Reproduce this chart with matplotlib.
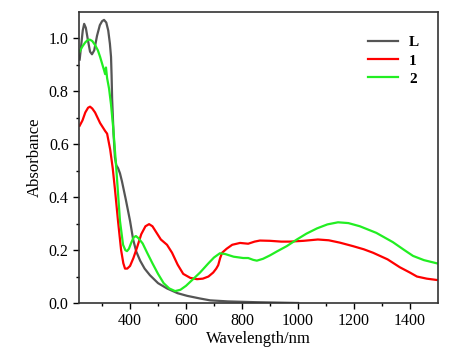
import numpy as np
import matplotlib
matplotlib.use('Agg')
import matplotlib.pyplot as plt

plt.rcParams['font.family'] = 'Liberation Serif'

# wavelength (nm) / absorbance
wl_L = [220, 226, 231, 236, 242, 250, 257, 264, 272, 282, 292, 300, 307, 315, 322, 328, 332, 334, 336, 341, 346, 351, 357, 364, 371, 385, 400, 411, 422, 436, 452, 471, 500, 532, 570, 604, 650, 686, 750, 850, 1000]
abs_L = [0.92, 0.98, 1.03, 1.055, 1.04, 0.99, 0.95, 0.94, 0.955, 1.01, 1.05, 1.065, 1.07, 1.06, 1.03, 0.98, 0.93, 0.86, 0.77, 0.64, 0.55, 0.52, 0.51, 0.49, 0.46, 0.39, 0.31, 0.24, 0.195, 0.16, 0.13, 0.105, 0.075, 0.055, 0.037, 0.027, 0.017, 0.01, 0.006, 0.003, 0.0]

wl_1 = [220, 230, 240, 250, 257, 265, 275, 293, 311, 318, 329, 338, 346, 357, 368, 376, 382, 390, 400, 412, 425, 440, 455, 468, 480, 495, 510, 532, 550, 570, 590, 615, 639, 660, 680, 697, 708, 715, 722, 729, 745, 765, 793, 822, 845, 864, 900, 940, 971, 1020, 1071, 1110, 1150, 1196, 1235, 1268, 1320, 1364, 1400, 1425, 1460, 1496]
abs_1 = [0.67, 0.69, 0.72, 0.738, 0.742, 0.735, 0.72, 0.68, 0.65, 0.64, 0.58, 0.51, 0.43, 0.31, 0.20, 0.15, 0.13, 0.13, 0.14, 0.17, 0.21, 0.26, 0.29, 0.298, 0.29, 0.265, 0.24, 0.22, 0.19, 0.145, 0.11, 0.095, 0.09, 0.092, 0.10, 0.115, 0.13, 0.143, 0.17, 0.19, 0.205, 0.22, 0.227, 0.224, 0.232, 0.236, 0.235, 0.232, 0.232, 0.235, 0.24, 0.237, 0.228, 0.215, 0.203, 0.19, 0.165, 0.135, 0.115, 0.10, 0.092, 0.087]

wl_2 = [220, 230, 240, 250, 257, 265, 275, 285, 293, 300, 307, 311, 314, 318, 325, 332, 340, 350, 364, 375, 383, 389, 396, 405, 413, 421, 430, 445, 461, 480, 500, 520, 540, 561, 580, 600, 620, 650, 680, 700, 721, 740, 770, 804, 822, 840, 853, 875, 900, 925, 960, 996, 1030, 1068, 1105, 1143, 1180, 1221, 1280, 1339, 1380, 1411, 1450, 1496]
abs_2 = [0.95, 0.97, 0.985, 0.995, 0.995, 0.99, 0.975, 0.955, 0.93, 0.905, 0.88, 0.865, 0.89, 0.85, 0.81, 0.75, 0.66, 0.52, 0.31, 0.22, 0.20, 0.196, 0.205, 0.23, 0.248, 0.253, 0.245, 0.225, 0.19, 0.15, 0.11, 0.075, 0.055, 0.045, 0.05, 0.065, 0.085, 0.115, 0.15, 0.172, 0.188, 0.185, 0.175, 0.17, 0.17, 0.163, 0.16, 0.167, 0.18, 0.195, 0.215, 0.24, 0.262, 0.282, 0.297, 0.305, 0.302, 0.29, 0.265, 0.23, 0.20, 0.178, 0.162, 0.15]

fig = plt.figure(figsize=(4.6, 3.62), dpi=100)
ax = fig.add_axes([0.172, 0.163, 0.780, 0.804])

ax.plot(wl_L, abs_L, color='#555555', lw=1.6, label='L')
ax.plot(wl_1, abs_1, color='#ff0000', lw=1.6, label='1')
ax.plot(wl_2, abs_2, color='#22ee22', lw=1.6, label='2')

ax.set_xlim(218, 1500)
ax.set_ylim(0, 1.1)
ax.set_xticks([400, 600, 800, 1000, 1200, 1400])
ax.set_xticks(np.arange(300, 1500, 200), minor=True)
ax.set_yticks([0.0, 0.2, 0.4, 0.6, 0.8, 1.0])
ax.set_yticks([0.1, 0.3, 0.5, 0.7, 0.9], minor=True)
ax.set_yticklabels(['0.0', '0.2', '0.4', '0.6', '0.8', '1.0'])
ax.tick_params(labelsize=11.5, length=4, width=1)
ax.tick_params(which='minor', length=2.5, width=1)
ax.set_xlabel('Wavelength/nm', fontsize=12, labelpad=1)
ax.set_ylabel('Absorbance', fontsize=12, labelpad=4)
for s in ax.spines.values():
    s.set_linewidth(1.2)
    s.set_color('#333333')

ax.legend(loc='upper right', bbox_to_anchor=(0.986, 0.966), frameon=False,
          prop={'weight': 'bold', 'size': 11}, handlelength=2.0,
          labelspacing=0.3, handletextpad=0.7)

fig.savefig('out.png', dpi=100)
